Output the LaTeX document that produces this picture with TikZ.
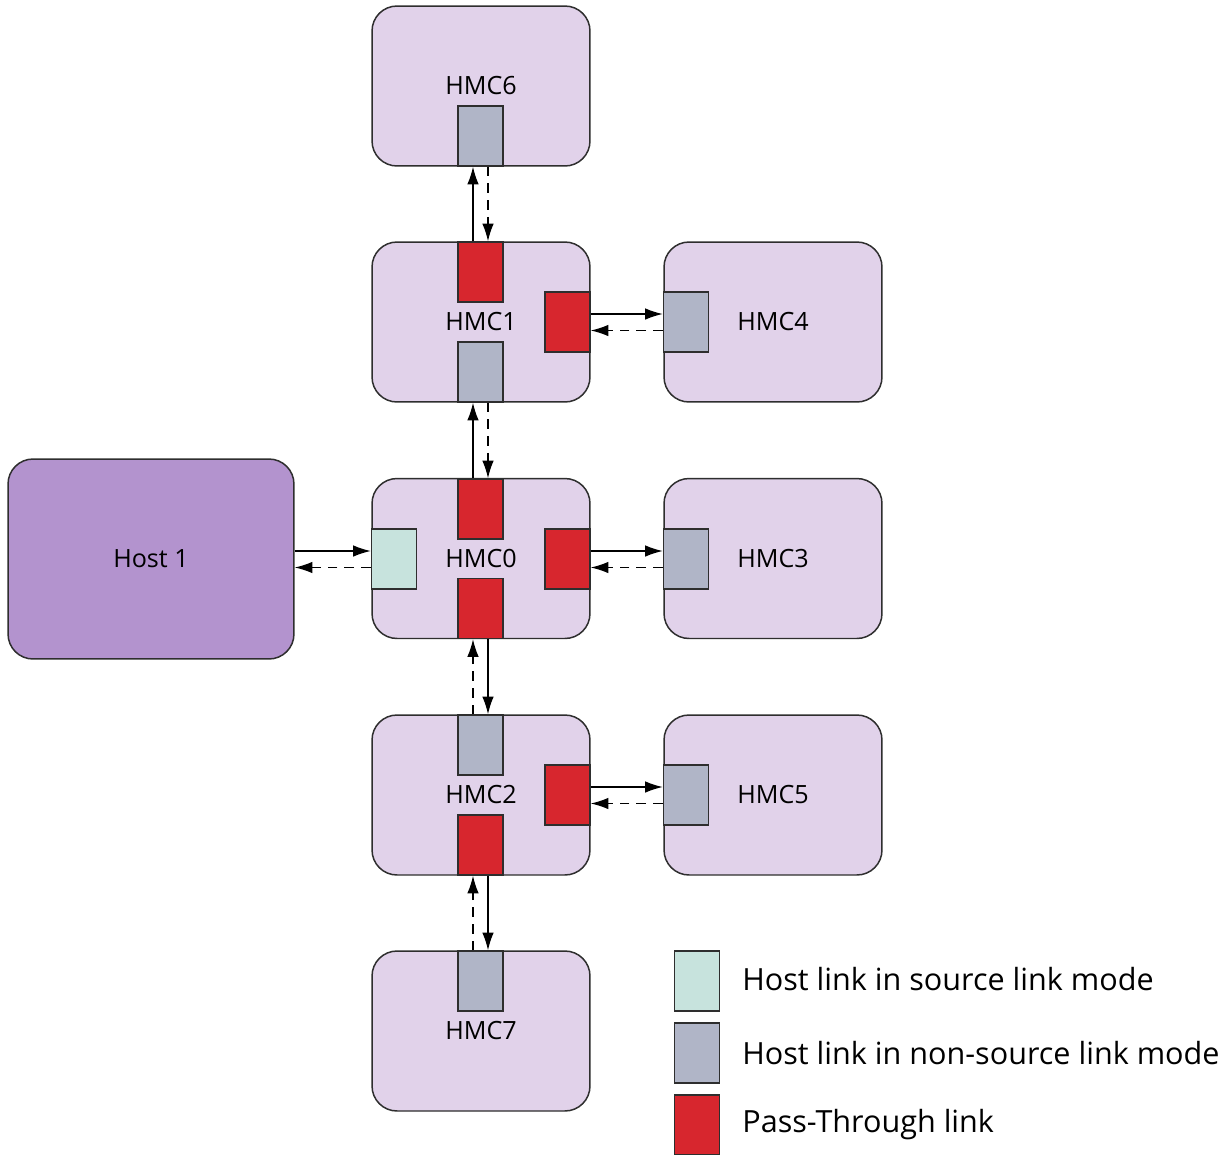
\documentclass[tikz,border=0pt]{standalone}
\usepackage{fontspec}
\setmainfont{Open Sans}
\usetikzlibrary{arrows.meta}
\definecolor{hmcfill}{HTML}{E1D2EA}
\definecolor{hostfill}{HTML}{B393CE}
\definecolor{passred}{HTML}{D7262E}
\definecolor{nonsrc}{HTML}{B0B5C7}
\definecolor{srclink}{HTML}{C7E3DD}
\definecolor{edge}{HTML}{2E2E2E}
\tikzset{
  hmc/.style={draw=edge, line width=0.85pt, fill=hmcfill, rounded corners=0.5cm,
    minimum width=4.36cm, minimum height=3.2cm, inner sep=0pt,
    font=\fontsize{14.3}{16}\selectfont},
  hostbox/.style={hmc, fill=hostfill, minimum width=5.72cm, minimum height=4cm},
  lnk/.style={draw=edge, line width=0.8pt, minimum width=0.9cm, minimum height=1.2cm, inner sep=0pt},
  pass/.style={lnk, fill=passred},
  nsrc/.style={lnk, fill=nonsrc},
  srcl/.style={lnk, fill=srclink},
  req/.style={line width=0.75pt, -{Latex[length=10pt,width=6.5pt]}},
  rsp/.style={req, dash pattern=on 5.5pt off 4pt},
  legtext/.style={anchor=west, inner sep=0pt, font=\fontsize{17.4}{20}\selectfont}
}
\begin{document}
\begin{tikzpicture}[x=0.02cm, y=-0.02cm]
\clip (0,0) rectangle (1228,1154);
\fill[white] (0,0) rectangle (1228,1154);

% memory cubes
\node[hmc] (hmc6) at (481,86) {HMC6};
\node[hmc] (hmc1) at (481,322) {HMC1};
\node[hmc] (hmc0) at (481,558.5) {HMC0};
\node[hmc] (hmc2) at (481,795) {HMC2};
\node[hmc] (hmc7) at (481,1031) {HMC7};
\node[hmc] (hmc4) at (773,322) {HMC4};
\node[hmc] (hmc3) at (773,558.5) {HMC3};
\node[hmc] (hmc5) at (773,795) {HMC5};
\node[hostbox] (host) at (151,559) {Host 1};

% link ports
\node[nsrc] (l6b) at (480.5,136) {};
\node[pass] (l1t) at (480.5,272) {};
\node[pass] (l1r) at (567.5,322) {};
\node[nsrc] (l1b) at (480.5,372) {};
\node[pass] (l0t) at (480.5,509) {};
\node[srcl] (l0l) at (394,559) {};
\node[pass] (l0r) at (567.5,559) {};
\node[pass] (l0b) at (480.5,608.5) {};
\node[nsrc] (l2t) at (480.5,745) {};
\node[pass] (l2r) at (567.5,795) {};
\node[pass] (l2b) at (480.5,845) {};
\node[nsrc] (l7t) at (480.5,981) {};
\node[nsrc] (l4l) at (686,322) {};
\node[nsrc] (l3l) at (686,559) {};
\node[nsrc] (l5l) at (686,795) {};

% vertical links
\draw[req] ([xshift=-0.15cm]l1t.north) -- ([xshift=-0.15cm]l6b.south);
\draw[rsp] ([xshift=0.15cm]l6b.south) -- ([xshift=0.15cm]l1t.north);
\draw[req] ([xshift=-0.15cm]l0t.north) -- ([xshift=-0.15cm]l1b.south);
\draw[rsp] ([xshift=0.15cm]l1b.south) -- ([xshift=0.15cm]l0t.north);
\draw[req] ([xshift=0.15cm]l0b.south) -- ([xshift=0.15cm]l2t.north);
\draw[rsp] ([xshift=-0.15cm]l2t.north) -- ([xshift=-0.15cm]l0b.south);
\draw[req] ([xshift=0.15cm]l2b.south) -- ([xshift=0.15cm]l7t.north);
\draw[rsp] ([xshift=-0.15cm]l7t.north) -- ([xshift=-0.15cm]l2b.south);

% horizontal links
\draw[req] ([yshift=0.16cm]host.east) -- ([yshift=0.16cm]l0l.west);
\draw[rsp] ([yshift=-0.17cm]l0l.west) -- ([yshift=-0.17cm]host.east);
\draw[req] ([yshift=0.16cm]l0r.east) -- ([yshift=0.16cm]l3l.west);
\draw[rsp] ([yshift=-0.17cm]l3l.west) -- ([yshift=-0.17cm]l0r.east);
\draw[req] ([yshift=0.16cm]l1r.east) -- ([yshift=0.16cm]l4l.west);
\draw[rsp] ([yshift=-0.17cm]l4l.west) -- ([yshift=-0.17cm]l1r.east);
\draw[req] ([yshift=0.16cm]l2r.east) -- ([yshift=0.16cm]l5l.west);
\draw[rsp] ([yshift=-0.17cm]l5l.west) -- ([yshift=-0.17cm]l2r.east);

% legend
\node[srcl] (key1) at (697,981) {};
\node[nsrc] (key2) at (697,1053) {};
\node[pass] (key3) at (697,1125) {};
\node[legtext] (txt1) at (742,979) {Host link in source link mode};
\node[legtext] (txt2) at (742,1053) {Host link in non-source link mode};
\node[legtext] (txt3) at (742,1125) {Pass-Through link};
\end{tikzpicture}
\end{document}
